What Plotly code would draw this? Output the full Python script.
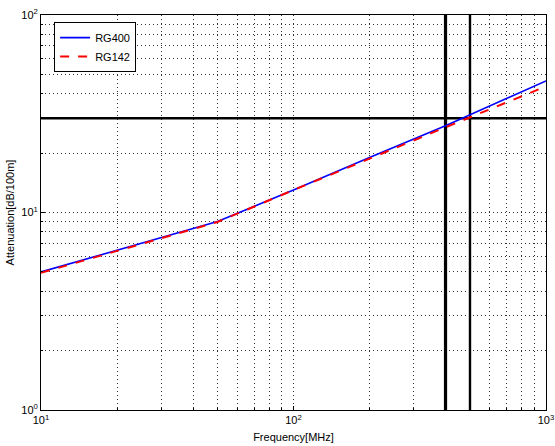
import plotly.graph_objects as go

# ---- data ----
freq_mhz = [10, 50, 100, 200, 400, 1000]
rg400_att = [5.0, 9.0, 13.0, 19.0, 27.5, 46.4]
rg142_att = [4.95, 8.95, 13.0, 18.8, 27.0, 43.5]

limit_att = 30            # horizontal reference (dB/100m)
limit_freqs = [400, 500]  # vertical references (MHz)
x_range = [10, 1000]
y_range = [1, 100]

x_major = [10, 100, 1000]
x_major_text = ["10<sup>1</sup>", "10<sup>2</sup>", "10<sup>3</sup>"]
y_major = [1, 10, 100]
y_major_text = ["10<sup>0</sup>", "10<sup>1</sup>", "10<sup>2</sup>"]
x_minor = [m * 10 ** e for e in (1, 2) for m in range(2, 10)]
y_minor = [m * 10 ** e for e in (0, 1) for m in range(2, 10)]

FONT = "Liberation Sans, Arial, sans-serif"
GRID_DASH = "1px,3px"
GRID_COLOR = "#333333"

fig = go.Figure()

# reference lines
fig.add_trace(go.Scatter(x=x_range, y=[limit_att, limit_att], mode="lines",
                         line=dict(color="black", width=2.6), showlegend=False, hoverinfo="skip"))
for f, w in zip(limit_freqs, [3.2, 2.4]):
    fig.add_trace(go.Scatter(x=[f, f], y=y_range, mode="lines",
                             line=dict(color="black", width=w), showlegend=False, hoverinfo="skip"))

fig.add_trace(go.Scatter(x=freq_mhz, y=rg400_att, mode="lines", name="RG400",
                         line=dict(color="#0000ff", width=1.6)))
fig.add_trace(go.Scatter(x=freq_mhz, y=rg142_att, mode="lines", name="RG142",
                         line=dict(color="#ff0000", width=2, dash="dash")))

axis_common = dict(
    showline=True, linecolor="black", linewidth=1, mirror=True,
    showgrid=True, gridcolor=GRID_COLOR, gridwidth=1, griddash=GRID_DASH,
    ticks="inside", ticklen=4, tickcolor="black",
    tickfont=dict(family=FONT, size=11, color="black"),
    zeroline=False, automargin=False,
)

fig.update_xaxes(type="log", range=[1, 3], tickmode="array", tickvals=x_major, ticktext=x_major_text,
                 minor=dict(tickmode="array", tickvals=x_minor, showgrid=True, gridcolor=GRID_COLOR,
                            gridwidth=1, griddash=GRID_DASH, ticks="inside", ticklen=2, tickcolor="black"),
                 title=dict(text="Frequency[MHz]", standoff=8,
                            font=dict(family=FONT, size=11, color="black")),
                 **axis_common)
fig.update_yaxes(type="log", range=[0, 2], tickmode="array", tickvals=y_major, ticktext=y_major_text,
                 minor=dict(tickmode="array", tickvals=y_minor, showgrid=True, gridcolor=GRID_COLOR,
                            gridwidth=1, griddash=GRID_DASH, ticks="inside", ticklen=2, tickcolor="black"),
                 title=dict(text="Attenuation[dB/100m]", standoff=4,
                            font=dict(family=FONT, size=11, color="black")),
                 **axis_common)

fig.update_layout(
    width=555, height=446,
    margin=dict(l=41, r=9, t=15, b=36),
    paper_bgcolor="white", plot_bgcolor="white",
    font=dict(family=FONT, size=11, color="black"),
    legend=dict(x=0.026, y=0.982, xanchor="left", yanchor="top",
                bgcolor="white", bordercolor="black", borderwidth=1,
                font=dict(size=11), tracegroupgap=0, itemwidth=30),
    showlegend=True,
)

fig.write_html("out.html")
